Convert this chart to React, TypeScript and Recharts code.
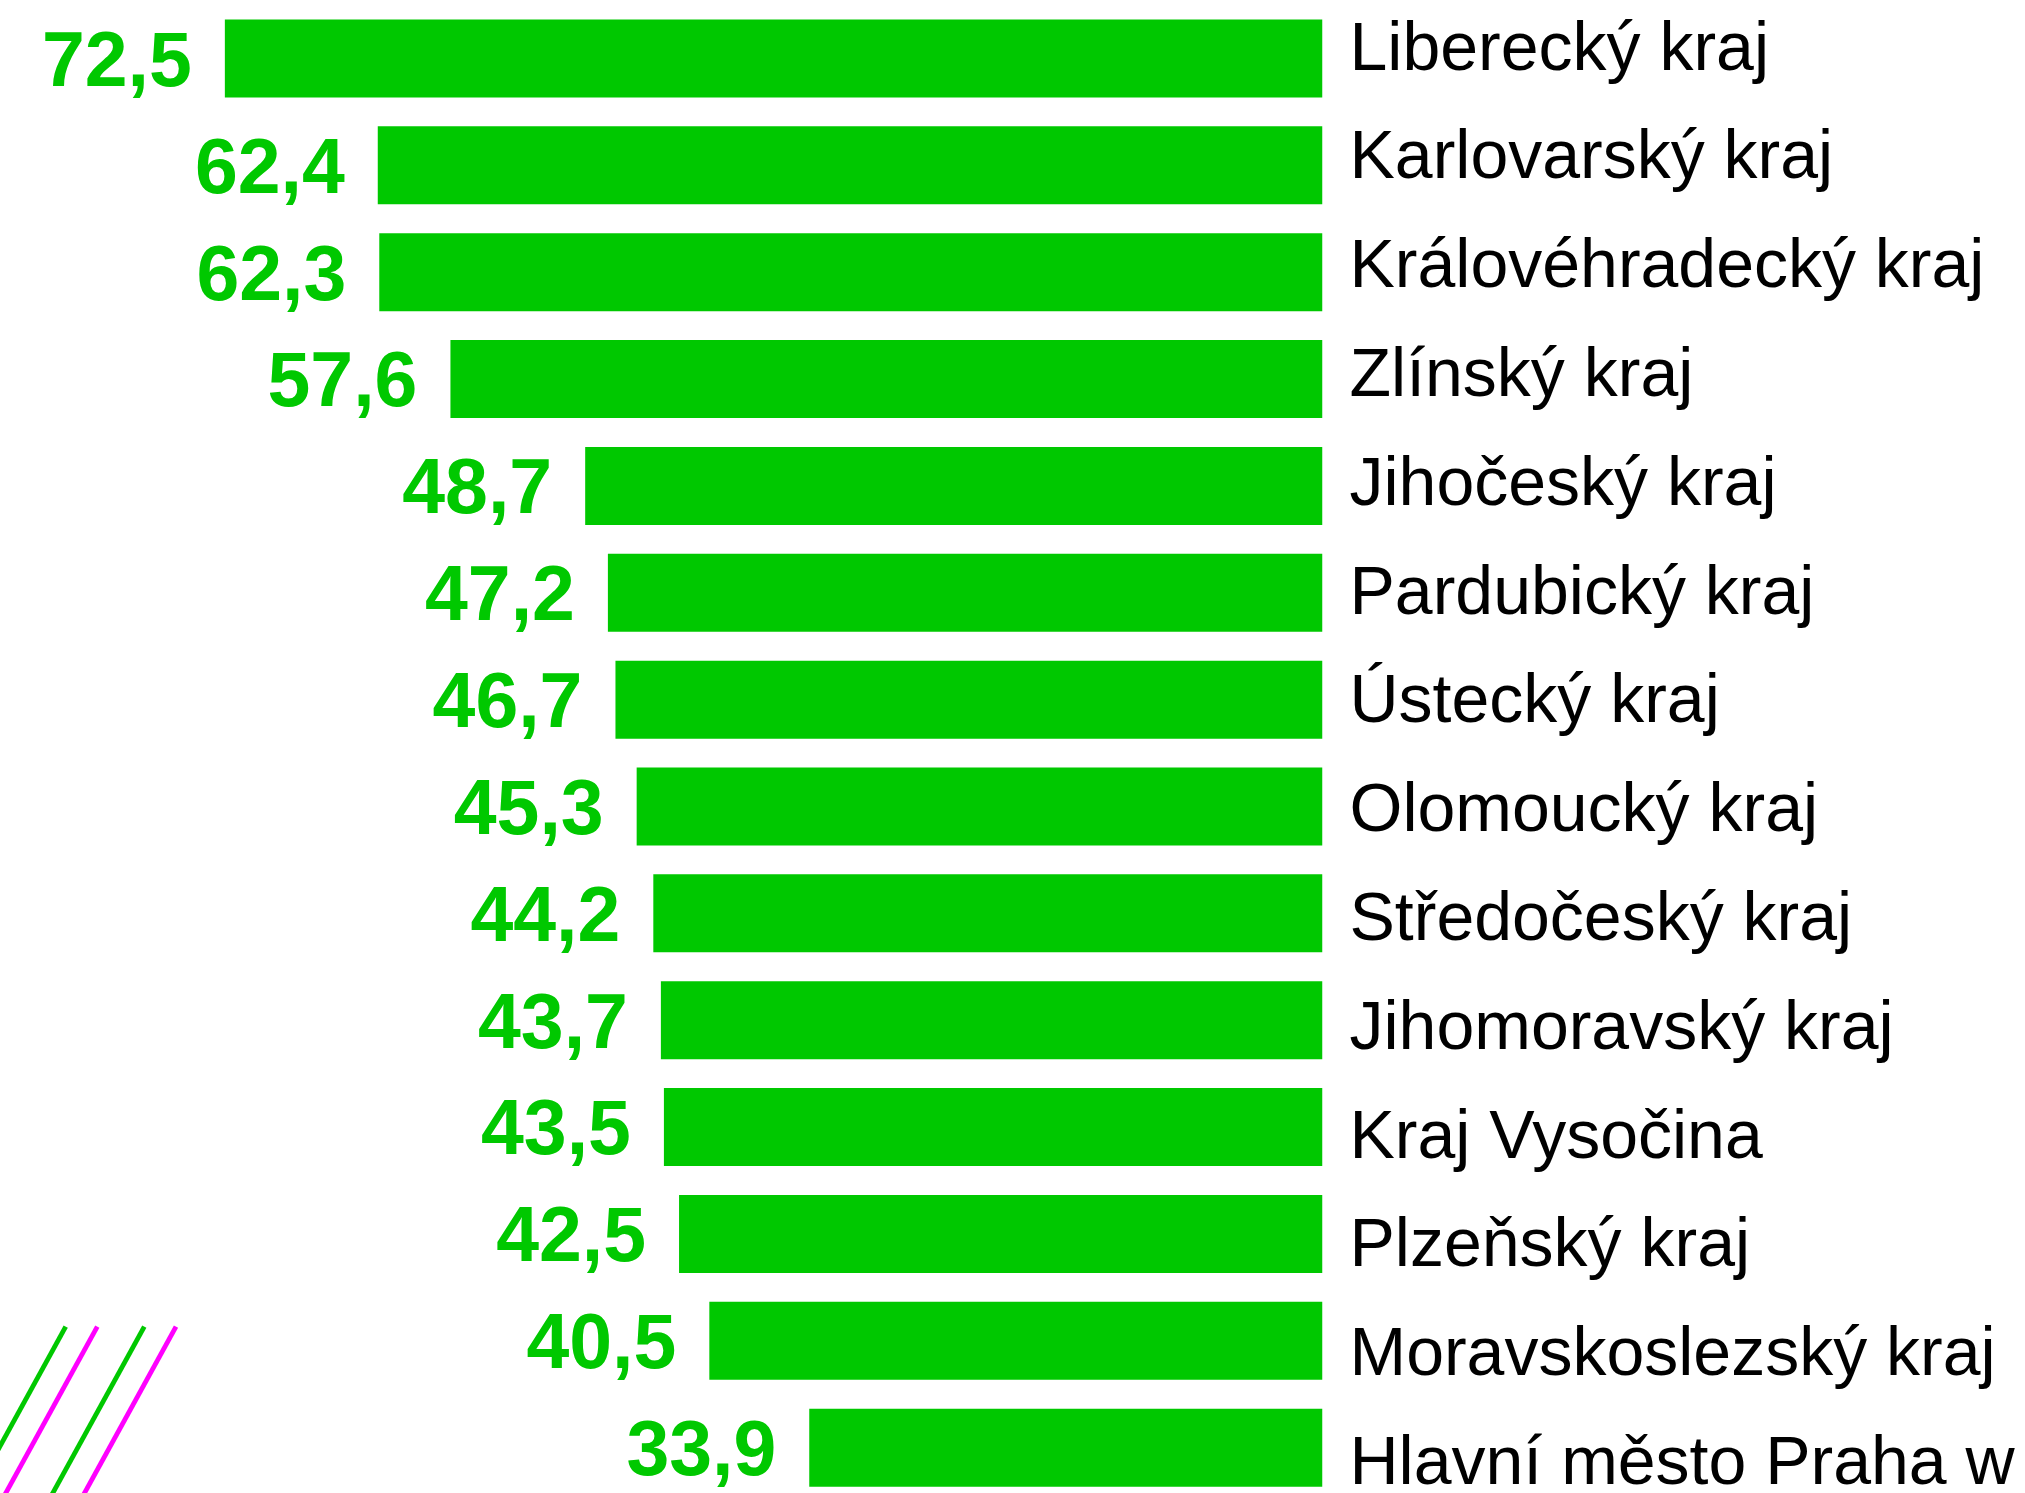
import { BarChart, Bar, XAxis, YAxis, LabelList } from 'recharts'

// podíl v % podle krajů, seřazeno sestupně
const regions = [
  'Liberecký kraj',
  'Karlovarský kraj',
  'Královéhradecký kraj',
  'Zlínský kraj',
  'Jihočeský kraj',
  'Pardubický kraj',
  'Ústecký kraj',
  'Olomoucký kraj',
  'Středočeský kraj',
  'Jihomoravský kraj',
  'Kraj Vysočina',
  'Plzeňský kraj',
  'Moravskoslezský kraj',
  'Hlavní město Praha w',
]
const values = [72.5, 62.4, 62.3, 57.6, 48.7, 47.2, 46.7, 45.3, 44.2, 43.7, 43.5, 42.5, 40.5, 33.9]
const labelTicks = regions.map((_, i) => i)

const GREEN = '#00c800'
const MAGENTA = '#ff00ff'
const FONT = '"Liberation Sans", Arial, Helvetica, sans-serif'

// ozdobné šikmé čáry vlevo dole
const stripes = [
  { x: 65.7, color: GREEN },
  { x: 97.3, color: MAGENTA },
  { x: 144.3, color: GREEN },
  { x: 176, color: MAGENTA },
]

const data = regions.map((name, i) => ({ name, value: values[i] }))

const fmt = (v: number) => v.toFixed(1).replace('.', ',')

function ValueLabel(props: any) {
  const { x, y, width, height, value } = props
  const left = Math.min(x, x + width)
  return (
    <text
      x={left - 33}
      y={y + height / 2}
      dy="0.355em"
      textAnchor="end"
      fill={GREEN}
      fontFamily={FONT}
      fontWeight={700}
      fontSize={77}
    >
      {fmt(value)}
    </text>
  )
}

// popisky krajů mají v originále o kousek větší rozestup než pruhy -> vlastní osa
function RegionTick(props: any) {
  const { x, y, payload } = props
  return (
    <text x={x} y={y} textAnchor="start" fill="#000" fontFamily={FONT} fontSize={68}>
      {regions[payload.value]}
    </text>
  )
}

export default function App() {
  return (
    <div style={{ position: 'absolute', left: 0, top: 0, width: 2025, height: 1493, overflow: 'hidden', background: '#fff' }}>
      <BarChart
        width={2025}
        height={1502}
        data={data}
        layout="vertical"
        margin={{ top: 5.5, right: 701.5, bottom: 0.5, left: 111.3 }}
      >
        <XAxis type="number" domain={[0, 80]} reversed hide allowDataOverflow />
        <YAxis type="category" dataKey="name" hide />
        <YAxis
          yAxisId="labels"
          orientation="right"
          type="number"
          scale="linear"
          domain={[0, regions.length - 1]}
          allowDataOverflow
          padding={{ top: 64, bottom: 17.6 }}
          ticks={labelTicks}
          interval={0}
          width={1}
          axisLine={false}
          tickLine={false}
          tickSize={0}
          tickMargin={27}
          tick={<RegionTick />}
        />
        <Bar dataKey="value" fill={GREEN} barSize={78} isAnimationActive={false}>
          <LabelList dataKey="value" content={<ValueLabel />} />
        </Bar>
      </BarChart>
      <svg width={2025} height={1493} style={{ position: 'absolute', left: 0, top: 0, pointerEvents: 'none' }}>
        {stripes.map((s, i) => (
          <line key={i} x1={s.x} y1={1326.7} x2={s.x - 0.55 * 180} y2={1326.7 + 180} stroke={s.color} strokeWidth={4.8} />
        ))}
      </svg>
    </div>
  )
}
